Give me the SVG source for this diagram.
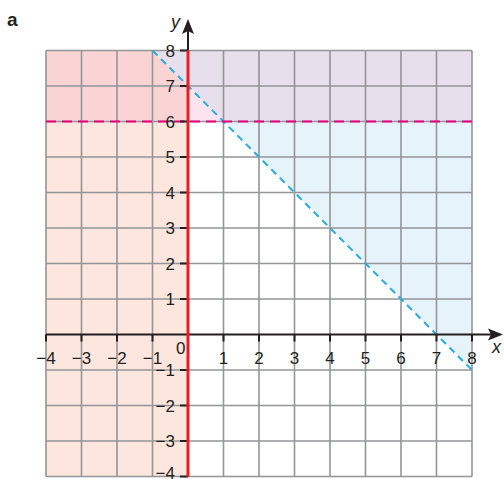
<svg xmlns="http://www.w3.org/2000/svg" width="504" height="479" viewBox="0 0 504 479">
<defs>
<style>
.grid{stroke:#939598;stroke-width:1.6;fill:none}
.ax{stroke:#231f20;stroke-width:2;fill:none}
.tk{stroke:#231f20;stroke-width:2}
.lbl{font-family:"Liberation Sans",Arial,sans-serif;font-size:17px;fill:#231f20}
.xl{text-anchor:middle}
.yl{text-anchor:end}
</style>
</defs>
<g id="regions">
<rect x="46" y="121.5" width="142" height="355" fill="#fde6dd"/>
<polygon points="46,50.5 152.5,50.5 188,86 188,121.5 46,121.5" fill="#fad4d5"/>
<polygon points="152.5,50.5 472,50.5 472,121.5 223.5,121.5" fill="#e7dfec"/>
<polygon points="188,86 223.5,121.5 188,121.5" fill="#fce4ee"/>
<polygon points="223.5,121.5 472,121.5 472,370" fill="#e7f3fb"/>
</g>
<g id="grid" class="grid">
<path d="M46,50.5V476.5M81.5,50.5V476.5M117,50.5V476.5M152.5,50.5V476.5M223.5,50.5V476.5M259,50.5V476.5M294.5,50.5V476.5M330,50.5V476.5M365.5,50.5V476.5M401,50.5V476.5M436.5,50.5V476.5M472,50.5V476.5"/>
<path d="M46,50.5H472M46,86H472M46,121.5H472M46,157H472M46,192.5H472M46,228H472M46,263.5H472M46,299H472M46,370H472M46,405.5H472M46,441H472M46,476.5H472"/>
</g>
<g id="connectors">
<line x1="152.5" y1="50.5" x2="472" y2="370" stroke="#29abe2" stroke-width="2" stroke-dasharray="7,5"/>
<line x1="46" y1="121.5" x2="472" y2="121.5" stroke="#e6007e" stroke-width="2" stroke-dasharray="10,6"/>
</g>
<g id="axes">
<line class="ax" x1="46" y1="334.5" x2="494" y2="334.5"/>
<polygon points="503,334.5 488,328.5 491,334.5 488,340.5" fill="#231f20"/>
<line class="ax" x1="188" y1="50.5" x2="188" y2="28"/>
<polygon points="188,19 182,34 188,31 194,34" fill="#231f20"/>
<path class="tk" d="M46,334.5v7M81.5,334.5v7M117,334.5v7M152.5,334.5v7M223.5,334.5v7M259,334.5v7M294.5,334.5v7M330,334.5v7M365.5,334.5v7M401,334.5v7M436.5,334.5v7M472,334.5v7"/>
<path class="tk" d="M180,50.5h8M180,86h8M180,121.5h8M180,157h8M180,192.5h8M180,228h8M180,263.5h8M180,299h8M180,370h8M180,405.5h8M180,441h8M180,476.5h8"/>
<line x1="188" y1="50.5" x2="188" y2="476.5" stroke="#ed1c24" stroke-width="3"/>
</g>
<g id="labels" class="lbl">
<text x="7" y="26" style="font-weight:bold;font-size:19px">a</text>
<text x="171" y="28" style="font-style:italic;font-size:18px">y</text>
<text x="492" y="353" style="font-style:italic;font-size:18px">x</text>
<text x="176" y="354">0</text>
<g class="xl">
<text x="46" y="364">−4</text>
<text x="81.5" y="364">−3</text>
<text x="117" y="364">−2</text>
<text x="152.5" y="364">−1</text>
<text x="223.5" y="364">1</text>
<text x="259" y="364">2</text>
<text x="294.5" y="364">3</text>
<text x="330" y="364">4</text>
<text x="365.5" y="364">5</text>
<text x="401" y="364">6</text>
<text x="436.5" y="364">7</text>
<text x="472" y="364">8</text>
</g>
<g class="yl">
<text x="175" y="56.5">8</text>
<text x="175" y="92">7</text>
<text x="175" y="127.5">6</text>
<text x="175" y="163">5</text>
<text x="175" y="198.5">4</text>
<text x="175" y="234">3</text>
<text x="175" y="269.5">2</text>
<text x="175" y="305">1</text>
<text x="175" y="376">−1</text>
<text x="175" y="411.5">−2</text>
<text x="175" y="447">−3</text>
<text x="175" y="479">−4</text>
</g>
</g>
</svg>
